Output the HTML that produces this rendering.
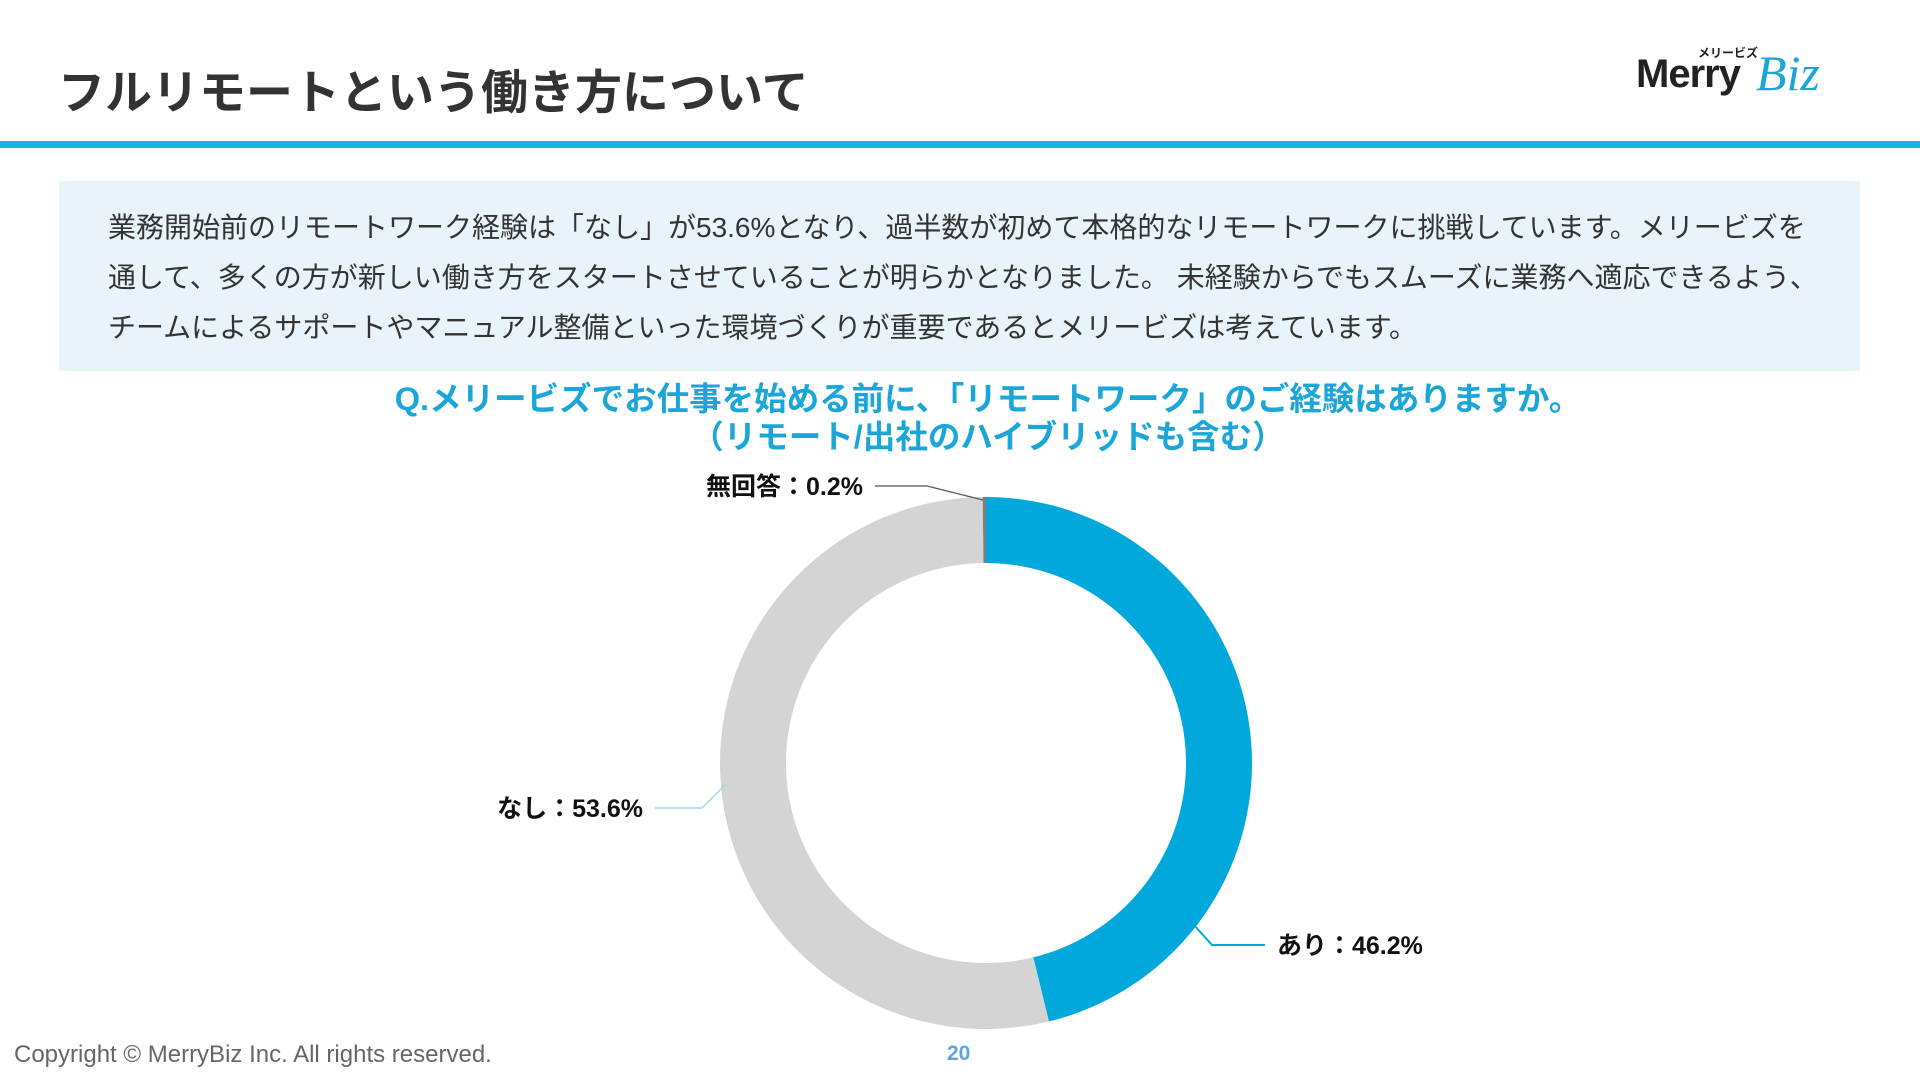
<!DOCTYPE html>
<html><head><meta charset="utf-8">
<style>
body{margin:0;width:1920px;height:1080px;background:#fff;position:relative;overflow:hidden;font-family:"Liberation Sans","Noto Sans CJK JP",sans-serif;}
.abs{position:absolute;}
</style></head><body>
<div class="abs" style="left:58px;top:54px;font-size:47px;font-weight:bold;color:#333;white-space:nowrap;">フルリモートという働き方について</div>
<div class="abs" style="left:1636px;top:44px;width:230px;height:60px;">
  <div style="position:absolute;left:62px;top:0;font-size:12px;font-weight:bold;color:#222;">メリービズ</div>
  <div style="position:absolute;left:0;top:8px;font-size:40px;font-weight:900;color:#222;letter-spacing:-1px;">Merry</div>
  <div style="position:absolute;left:120px;top:0px;font-size:50px;font-style:italic;font-family:'Liberation Serif',serif;color:#1aa6d9;">Biz</div>
</div>
<div class="abs" style="left:0;top:141px;width:1920px;height:7px;background:#12b5ea;"></div>
<div class="abs" style="left:59px;top:181px;width:1801px;height:190px;background:#e9f4fa;"></div>
<div class="abs" style="left:108px;top:203px;width:1760px;font-size:28px;line-height:50px;color:#333;white-space:nowrap;">業務開始前のリモートワーク経験は「なし」が53.6%となり、過半数が初めて本格的なリモートワークに挑戦しています。メリービズを<br>通して、多くの方が新しい働き方をスタートさせていることが明らかとなりました。 未経験からでもスムーズに業務へ適応できるよう、<br>チームによるサポートやマニュアル整備といった環境づくりが重要であるとメリービズは考えています。</div>
<div class="abs" style="left:0;width:1976px;top:380px;text-align:center;font-size:32.5px;line-height:38px;font-weight:bold;color:#1aa6d9;white-space:nowrap;">Q.メリービズでお仕事を始める前に、「リモートワーク」のご経験はありますか。<br>（リモート/出社のハイブリッドも含む）</div>
<svg class="abs" id="chart" style="left:0;top:0;" width="1920" height="1080"></svg>
<div class="abs" style="left:14px;top:1041px;font-size:24px;color:#666;">Copyright © MerryBiz Inc. All rights reserved.</div>
<div class="abs" style="left:947px;top:1042px;font-size:21px;font-weight:bold;color:#5aa6e0;">20</div>
<script>
const categories=["あり","なし","無回答"];
const values=[46.2,53.6,0.2];
const colors=["#00a8dc","#d4d4d4","#7f7f7f"];
const cx=986,cy=763,rxO=266,ryO=266,rxI=200,ryI=200;
const svg=document.getElementById('chart');
const NS="http://www.w3.org/2000/svg";
const total=values.reduce((a,b)=>a+b,0);
function pt(a,rx,ry){return [cx+rx*Math.sin(a),cy-ry*Math.cos(a)];}
let acc=0;
values.forEach((v,i)=>{
  const a0=acc/total*2*Math.PI; acc+=v; const a1=acc/total*2*Math.PI;
  const large=(a1-a0)>Math.PI?1:0;
  const p0=pt(a0,rxO,ryO),p1=pt(a1,rxO,ryO),q1=pt(a1,rxI,ryI),q0=pt(a0,rxI,ryI);
  const d=`M${p0}A${rxO},${ryO} 0 ${large} 1 ${p1}L${q1}A${rxI},${ryI} 0 ${large} 0 ${q0}Z`;
  const p=document.createElementNS(NS,'path');
  p.setAttribute('d',d);p.setAttribute('fill',colors[i]);
  
  
  svg.appendChild(p);
});
const labelPos=[[1277,945,"start",[[1265,945],[1212,945],[1194,925]]],[643,808,"end",[[655,808],[702,808],[725,785]]],[863,486,"end",[[875,486],[927,486],[983,500]]]];
const lineColors=["#00a8dc","#8fd0e8","#555"];
categories.forEach((c,i)=>{
  const L=labelPos[i];
  const pl=document.createElementNS(NS,'polyline');
  pl.setAttribute('points',L[3].map(p=>p.join(',')).join(' '));
  pl.setAttribute('fill','none');pl.setAttribute('stroke',lineColors[i]);pl.setAttribute('stroke-width',i==0?2:1.2);
  
  
  svg.appendChild(pl);
  const t=document.createElementNS(NS,'text');
  t.setAttribute('x',L[0]);t.setAttribute('y',L[1]+9);t.setAttribute('text-anchor',L[2]);
  t.setAttribute('font-size','25');t.setAttribute('font-weight','bold');t.setAttribute('fill','#111');
  t.setAttribute('font-family','"Liberation Sans","Noto Sans CJK JP",sans-serif');
  t.textContent=c+"："+values[i].toFixed(1)+"%";
  
  
  svg.appendChild(t);
});
</script>
</body></html>
